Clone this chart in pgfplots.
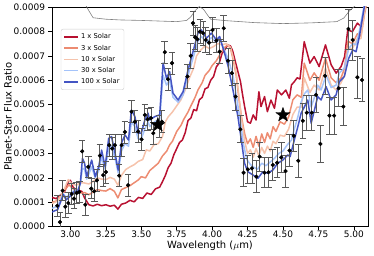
\documentclass[border=0pt]{standalone}
\usepackage{fontspec}
\setmainfont{DejaVu Sans}
\usepackage{pgfplots}
\pgfplotsset{compat=1.18}
\definecolor{cA}{RGB}{180,4,38}
\definecolor{cB}{RGB}{236,134,106}
\definecolor{cC}{RGB}{245,192,168}
\definecolor{cD}{RGB}{160,192,250}
\definecolor{cE}{RGB}{59,76,192}
\pgfdeclareplotmark{fstar}{%
  \pgfpathmoveto{\pgfqpointpolar{90}{\pgfplotmarksize}}%
  \pgfpathlineto{\pgfqpointpolar{126}{0.40\pgfplotmarksize}}%
  \pgfpathlineto{\pgfqpointpolar{162}{\pgfplotmarksize}}%
  \pgfpathlineto{\pgfqpointpolar{198}{0.40\pgfplotmarksize}}%
  \pgfpathlineto{\pgfqpointpolar{234}{\pgfplotmarksize}}%
  \pgfpathlineto{\pgfqpointpolar{270}{0.40\pgfplotmarksize}}%
  \pgfpathlineto{\pgfqpointpolar{306}{\pgfplotmarksize}}%
  \pgfpathlineto{\pgfqpointpolar{342}{0.40\pgfplotmarksize}}%
  \pgfpathlineto{\pgfqpointpolar{18}{\pgfplotmarksize}}%
  \pgfpathlineto{\pgfqpointpolar{54}{0.40\pgfplotmarksize}}%
  \pgfpathclose\pgfusepathqfillstroke}
\begin{document}
\begin{tikzpicture}
\begin{axis}[
  scale only axis, width=316bp, height=219.7bp,
  xmin=2.87, xmax=5.10, ymin=0, ymax=0.0009,
  xtick={3,3.25,3.5,3.75,4,4.25,4.5,4.75,5},
  ytick={0,0.0001,0.0002,0.0003,0.0004,0.0005,0.0006,0.0007,0.0008,0.0009},
  scaled x ticks=false, scaled y ticks=false,
  xticklabel style={yshift=3bp, /pgf/number format/.cd, fixed, fixed zerofill, precision=2, assume math mode=true},
  yticklabel style={/pgf/number format/.cd, fixed, fixed zerofill, precision=4, assume math mode=true},
  tick label style={font=\fontsize{9}{10}\selectfont},
  label style={font=\fontsize{9}{10}\selectfont},
  tick align=outside, major tick length=3.5bp, xtick pos=bottom, ytick pos=left,
  minor tick num=0,
  axis line style={line width=0.6bp},
  every tick/.style={black, line width=0.6bp},
  every axis y label/.style={at={(axis description cs:0,0.5)}, xshift=-44bp, rotate=90, anchor=center},
  every axis x label/.style={at={(axis description cs:0.5,0)}, yshift=-19bp, anchor=center},
  xlabel={Wavelength ($\mu$m)},
  ylabel={Planet-Star Flux Ratio},
  legend style={at={(axis description cs:0.028,0.9)}, anchor=north west,
    font=\fontsize{6.8}{8}\selectfont, draw=black!20, rounded corners=2bp,
    fill=white, fill opacity=0.8, text opacity=1, inner xsep=2.5bp, inner ysep=2.5bp,
    row sep=0.6bp},
  legend cell align=left,
  legend image code/.code={\draw[#1] (0bp,0bp) -- (14bp,0bp);},
  every axis plot/.append style={line join=round},
]
\coordinate (SW) at (rel axis cs:0,0);
\coordinate (NE) at (rel axis cs:1,1);

% 1 x Solar
\addplot[cA, line width=1.5bp, opacity=0.95] table {
2.870 1.20e-4
2.900 1.15e-4
2.930 1.30e-4
2.960 1.45e-4
2.985 1.85e-4
3.000 1.90e-4
3.020 1.60e-4
3.050 1.50e-4
3.080 1.45e-4
3.100 1.18e-4
3.130 0.90e-4
3.160 0.85e-4
3.190 0.92e-4
3.220 0.86e-4
3.250 0.90e-4
3.280 0.84e-4
3.310 0.88e-4
3.335 0.72e-4
3.360 0.92e-4
3.390 0.97e-4
3.420 1.08e-4
3.450 1.02e-4
3.480 1.20e-4
3.510 1.16e-4
3.540 1.38e-4
3.570 1.32e-4
3.600 1.55e-4
3.630 1.62e-4
3.650 1.85e-4
3.670 2.10e-4
3.690 2.42e-4
3.710 2.60e-4
3.730 2.95e-4
3.750 3.20e-4
3.770 3.45e-4
3.790 3.55e-4
3.810 3.85e-4
3.830 4.35e-4
3.850 4.45e-4
3.870 4.80e-4
3.890 4.75e-4
3.910 5.20e-4
3.930 5.30e-4
3.950 5.65e-4
3.970 5.70e-4
3.990 6.00e-4
4.010 6.15e-4
4.030 6.55e-4
4.050 6.70e-4
4.070 7.10e-4
4.090 7.25e-4
4.110 7.45e-4
4.130 7.40e-4
4.145 7.20e-4
4.160 6.85e-4
4.180 6.40e-4
4.200 5.95e-4
4.215 5.40e-4
4.230 4.90e-4
4.250 4.30e-4
4.270 4.24e-4
4.290 4.58e-4
4.310 4.37e-4
4.330 5.53e-4
4.345 4.92e-4
4.370 5.33e-4
4.390 4.71e-4
4.415 5.19e-4
4.440 4.85e-4
4.460 5.60e-4
4.490 5.40e-4
4.520 5.60e-4
4.545 5.26e-4
4.560 5.81e-4
4.580 5.94e-4
4.600 6.10e-4
4.620 6.05e-4
4.650 7.58e-4
4.690 6.70e-4
4.720 6.97e-4
4.755 6.56e-4
4.800 7.45e-4
4.840 6.63e-4
4.875 6.29e-4
4.910 6.56e-4
4.935 6.97e-4
4.957 8.06e-4
4.990 7.99e-4
5.025 8.34e-4
5.050 8.20e-4
5.075 9.00e-4
5.100 9.60e-4
};
\addlegendentry{1 x Solar}

% 3 x Solar
\addplot[cB, line width=1.5bp, opacity=0.95] table {
2.870 1.00e-4
2.900 1.05e-4
2.930 1.25e-4
2.960 1.50e-4
2.990 1.72e-4
3.010 1.60e-4
3.040 1.45e-4
3.070 1.38e-4
3.100 1.40e-4
3.130 1.31e-4
3.160 1.42e-4
3.190 1.52e-4
3.220 1.48e-4
3.250 1.46e-4
3.280 1.56e-4
3.310 1.45e-4
3.335 1.18e-4
3.360 1.52e-4
3.390 1.60e-4
3.420 1.68e-4
3.450 1.80e-4
3.480 1.92e-4
3.500 2.05e-4
3.530 2.00e-4
3.560 2.30e-4
3.590 2.45e-4
3.620 2.60e-4
3.650 2.90e-4
3.680 3.10e-4
3.700 3.35e-4
3.720 3.50e-4
3.750 3.90e-4
3.780 4.15e-4
3.800 4.40e-4
3.830 4.70e-4
3.850 4.95e-4
3.880 5.30e-4
3.900 5.60e-4
3.930 5.90e-4
3.950 6.20e-4
3.980 6.40e-4
4.000 6.60e-4
4.030 6.80e-4
4.050 7.00e-4
4.070 7.20e-4
4.090 7.35e-4
4.110 7.45e-4
4.130 7.30e-4
4.150 6.80e-4
4.170 6.20e-4
4.190 5.20e-4
4.210 4.40e-4
4.230 3.80e-4
4.250 3.40e-4
4.270 3.60e-4
4.290 3.25e-4
4.310 3.70e-4
4.330 3.30e-4
4.350 3.80e-4
4.370 3.45e-4
4.390 3.85e-4
4.410 3.60e-4
4.430 4.10e-4
4.450 3.90e-4
4.480 4.30e-4
4.510 4.20e-4
4.540 4.50e-4
4.570 5.20e-4
4.600 5.40e-4
4.630 5.30e-4
4.650 6.70e-4
4.690 6.00e-4
4.720 6.30e-4
4.755 6.00e-4
4.800 6.90e-4
4.840 6.10e-4
4.875 5.90e-4
4.910 6.10e-4
4.935 6.50e-4
4.957 7.60e-4
4.990 7.50e-4
5.025 7.90e-4
5.050 7.80e-4
5.075 8.70e-4
5.100 9.40e-4
};
\addlegendentry{3 x Solar}

% 10 x Solar
\addplot[cC, line width=1.5bp, opacity=0.95] table {
2.870 0.95e-4
2.910 1.05e-4
2.950 1.45e-4
2.985 1.93e-4
3.010 1.75e-4
3.040 1.70e-4
3.070 1.80e-4
3.100 1.79e-4
3.130 1.75e-4
3.160 1.85e-4
3.190 2.00e-4
3.220 1.95e-4
3.250 1.93e-4
3.280 2.02e-4
3.310 1.95e-4
3.335 1.70e-4
3.360 2.10e-4
3.390 2.34e-4
3.420 2.45e-4
3.450 2.54e-4
3.480 2.68e-4
3.510 2.75e-4
3.535 3.15e-4
3.560 3.10e-4
3.590 3.36e-4
3.620 3.40e-4
3.650 3.70e-4
3.670 4.30e-4
3.690 4.50e-4
3.720 4.70e-4
3.750 4.95e-4
3.780 5.20e-4
3.810 5.60e-4
3.840 6.10e-4
3.870 6.50e-4
3.890 7.00e-4
3.920 7.24e-4
3.950 7.40e-4
3.980 7.30e-4
4.010 7.38e-4
4.040 7.50e-4
4.070 7.45e-4
4.100 7.50e-4
4.130 7.35e-4
4.150 6.90e-4
4.170 6.30e-4
4.190 5.30e-4
4.210 4.30e-4
4.230 3.50e-4
4.250 3.00e-4
4.270 3.15e-4
4.290 2.85e-4
4.310 3.20e-4
4.330 2.90e-4
4.350 3.25e-4
4.370 3.00e-4
4.390 3.30e-4
4.410 3.10e-4
4.430 3.50e-4
4.450 3.40e-4
4.480 3.75e-4
4.510 3.70e-4
4.540 4.00e-4
4.570 4.60e-4
4.600 4.90e-4
4.630 4.90e-4
4.650 6.10e-4
4.690 5.50e-4
4.720 5.80e-4
4.755 5.60e-4
4.800 6.50e-4
4.840 5.80e-4
4.875 5.60e-4
4.910 5.90e-4
4.935 6.20e-4
4.957 7.30e-4
4.990 7.30e-4
5.025 7.70e-4
5.050 7.70e-4
5.075 8.80e-4
5.100 9.50e-4
};
\addlegendentry{10 x Solar}

% 30 x Solar
\addplot[cD, line width=1.5bp, opacity=0.95] table {
2.870 0.75e-4
2.910 0.85e-4
2.950 1.35e-4
2.970 1.20e-4
3.000 1.35e-4
3.030 1.50e-4
3.050 1.48e-4
3.070 1.75e-4
3.085 2.40e-4
3.100 2.35e-4
3.115 1.95e-4
3.150 2.45e-4
3.175 2.00e-4
3.200 2.30e-4
3.220 2.85e-4
3.245 2.35e-4
3.270 3.20e-4
3.290 3.30e-4
3.315 2.80e-4
3.337 2.20e-4
3.360 3.10e-4
3.385 3.40e-4
3.410 3.30e-4
3.430 4.30e-4
3.455 4.10e-4
3.478 3.60e-4
3.500 3.60e-4
3.525 4.00e-4
3.548 4.30e-4
3.560 4.10e-4
3.595 4.30e-4
3.630 4.40e-4
3.654 6.20e-4
3.678 5.80e-4
3.700 6.00e-4
3.724 5.30e-4
3.760 5.10e-4
3.795 5.40e-4
3.830 6.20e-4
3.865 6.90e-4
3.900 7.60e-4
3.924 7.80e-4
3.960 7.55e-4
3.995 7.75e-4
4.030 7.55e-4
4.053 7.70e-4
4.088 7.20e-4
4.112 6.90e-4
4.147 6.20e-4
4.170 5.40e-4
4.200 4.30e-4
4.220 3.40e-4
4.245 2.75e-4
4.270 2.55e-4
4.290 2.45e-4
4.320 2.35e-4
4.350 2.60e-4
4.380 2.50e-4
4.410 2.65e-4
4.440 2.80e-4
4.470 3.00e-4
4.500 3.10e-4
4.530 3.35e-4
4.560 3.55e-4
4.580 4.00e-4
4.605 4.50e-4
4.628 5.10e-4
4.652 5.45e-4
4.675 5.60e-4
4.699 4.90e-4
4.722 5.30e-4
4.745 5.80e-4
4.769 5.60e-4
4.804 6.20e-4
4.840 5.70e-4
4.875 5.80e-4
4.898 6.30e-4
4.933 6.50e-4
4.964 7.30e-4
4.992 7.50e-4
5.016 7.45e-4
5.039 8.00e-4
5.074 9.10e-4
5.100 9.60e-4
};
\addlegendentry{30 x Solar}

% 100 x Solar
\addplot[cE, line width=1.5bp, opacity=0.95] table {
2.870 0.60e-4
2.880 0.63e-4
2.910 0.70e-4
2.950 1.31e-4
2.970 1.10e-4
3.000 1.26e-4
3.030 1.46e-4
3.050 1.40e-4
3.070 1.79e-4
3.085 2.80e-4
3.100 2.60e-4
3.115 2.05e-4
3.150 2.73e-4
3.175 2.05e-4
3.200 2.46e-4
3.220 3.14e-4
3.245 2.46e-4
3.270 3.62e-4
3.290 3.69e-4
3.315 3.01e-4
3.337 2.32e-4
3.360 3.42e-4
3.385 3.76e-4
3.410 3.55e-4
3.430 4.78e-4
3.455 4.51e-4
3.478 3.83e-4
3.500 3.83e-4
3.525 4.37e-4
3.548 4.65e-4
3.560 4.37e-4
3.595 4.51e-4
3.630 4.58e-4
3.654 6.70e-4
3.678 6.08e-4
3.700 6.35e-4
3.724 5.47e-4
3.760 5.19e-4
3.795 5.53e-4
3.830 6.42e-4
3.865 7.17e-4
3.900 7.93e-4
3.924 8.06e-4
3.960 7.72e-4
3.995 7.93e-4
4.030 7.65e-4
4.053 7.79e-4
4.088 7.10e-4
4.112 6.60e-4
4.147 5.60e-4
4.182 4.51e-4
4.206 3.55e-4
4.229 2.60e-4
4.252 2.25e-4
4.288 2.12e-4
4.323 1.98e-4
4.358 2.25e-4
4.393 2.19e-4
4.428 2.32e-4
4.464 2.60e-4
4.499 2.73e-4
4.534 2.94e-4
4.550 2.87e-4
4.580 3.55e-4
4.605 4.10e-4
4.628 4.65e-4
4.652 4.92e-4
4.675 5.19e-4
4.699 4.24e-4
4.722 4.78e-4
4.745 5.33e-4
4.769 5.19e-4
4.804 5.74e-4
4.840 5.19e-4
4.875 5.40e-4
4.898 5.94e-4
4.933 6.15e-4
4.964 6.90e-4
4.992 7.24e-4
5.016 7.17e-4
5.039 7.79e-4
5.074 9.00e-4
5.100 9.60e-4
};
\addlegendentry{100 x Solar}

% grey reference curve at top
\addplot[gray, line width=0.6bp, forget plot] table {
2.870 9.60e-4
3.110 9.05e-4
3.130 8.85e-4
3.160 8.56e-4
3.250 8.50e-4
3.350 8.47e-4
3.500 8.45e-4
3.650 8.42e-4
3.750 8.40e-4
3.820 8.45e-4
3.850 8.60e-4
3.880 8.85e-4
3.910 9.02e-4
3.940 8.90e-4
3.970 8.65e-4
3.990 8.50e-4
4.100 8.44e-4
4.300 8.36e-4
4.500 8.32e-4
4.700 8.35e-4
4.880 8.40e-4
4.930 8.55e-4
4.970 8.85e-4
5.020 9.10e-4
5.100 9.50e-4
};

% observed data with error bars
\addplot[only marks, mark=*, mark size=1.9bp, black, forget plot,
  error bars/.cd, y dir=both, y explicit,
  error bar style={black!65, line width=0.8bp},
  error mark options={rotate=90, mark size=3.3bp, black!65, line width=0.8bp}]
  table[x=x, y=y, y error=e] {
x y e
2.907 0.86e-4 0.42e-4
2.926 0.19e-4 0.40e-4
2.945 1.48e-4 0.42e-4
2.964 0.82e-4 0.42e-4
2.985 0.97e-4 0.42e-4
3.009 1.34e-4 0.42e-4
3.025 1.15e-4 0.42e-4
3.044 1.38e-4 0.42e-4
3.062 1.42e-4 0.42e-4
3.083 3.09e-4 0.45e-4
3.105 0.90e-4 0.42e-4
3.126 2.45e-4 0.45e-4
3.147 1.56e-4 0.42e-4
3.168 1.45e-4 0.42e-4
3.187 1.90e-4 0.45e-4
3.208 2.91e-4 0.45e-4
3.231 2.11e-4 0.45e-4
3.250 2.24e-4 0.45e-4
3.274 3.34e-4 0.45e-4
3.295 3.20e-4 0.45e-4
3.314 3.34e-4 0.45e-4
3.344 2.09e-4 0.45e-4
3.361 3.34e-4 0.45e-4
3.384 3.88e-4 0.45e-4
3.407 1.70e-4 0.45e-4
3.431 4.71e-4 0.45e-4
3.455 4.30e-4 0.45e-4
3.478 3.90e-4 0.45e-4
3.502 3.58e-4 0.45e-4
3.525 4.58e-4 0.45e-4
3.545 4.40e-4 0.45e-4
3.568 4.45e-4 0.45e-4
3.585 3.83e-4 0.45e-4
3.625 4.10e-4 0.45e-4
3.645 4.30e-4 0.45e-4
3.666 7.15e-4 0.45e-4
3.689 6.04e-4 0.45e-4
3.717 6.70e-4 0.45e-4
3.826 6.15e-4 0.50e-4
3.849 7.00e-4 0.50e-4
3.865 8.34e-4 0.50e-4
3.880 7.76e-4 0.50e-4
3.897 7.68e-4 0.50e-4
3.914 7.99e-4 0.50e-4
3.936 7.93e-4 0.50e-4
3.955 7.65e-4 0.50e-4
3.978 7.54e-4 0.50e-4
4.003 8.06e-4 0.50e-4
4.030 7.62e-4 0.50e-4
4.053 7.17e-4 0.50e-4
4.082 8.13e-4 0.52e-4
4.112 6.80e-4 0.52e-4
4.140 6.29e-4 0.52e-4
4.166 5.33e-4 0.55e-4
4.199 3.99e-4 0.55e-4
4.222 2.21e-4 0.57e-4
4.252 2.35e-4 0.57e-4
4.281 2.39e-4 0.60e-4
4.312 2.05e-4 0.65e-4
4.335 2.87e-4 0.60e-4
4.370 2.21e-4 0.62e-4
4.398 2.23e-4 0.62e-4
4.428 2.53e-4 0.62e-4
4.459 2.62e-4 0.62e-4
4.488 2.84e-4 0.62e-4
4.518 2.28e-4 0.65e-4
4.546 3.12e-4 0.65e-4
4.576 3.72e-4 0.65e-4
4.608 2.70e-4 0.68e-4
4.640 4.34e-4 0.72e-4
4.668 4.67e-4 0.72e-4
4.703 4.67e-4 0.72e-4
4.734 5.40e-4 0.72e-4
4.764 3.39e-4 0.74e-4
4.797 6.18e-4 0.74e-4
4.828 4.55e-4 0.76e-4
4.861 4.55e-4 0.76e-4
4.893 5.67e-4 0.76e-4
4.926 4.92e-4 0.78e-4
4.962 8.10e-4 0.82e-4
4.992 7.65e-4 0.82e-4
5.025 6.12e-4 0.87e-4
5.058 6.01e-4 0.87e-4
};

% stars
\addplot[only marks, mark=fstar, mark size=7.5bp, black, forget plot] table {
3.617 4.17e-4
4.500 4.58e-4
};
\end{axis}
\pgfresetboundingbox
\useasboundingbox ([shift={(-52bp,-29.3bp)}]SW) rectangle ([shift={(6bp,7bp)}]NE);
\end{tikzpicture}
\end{document}
